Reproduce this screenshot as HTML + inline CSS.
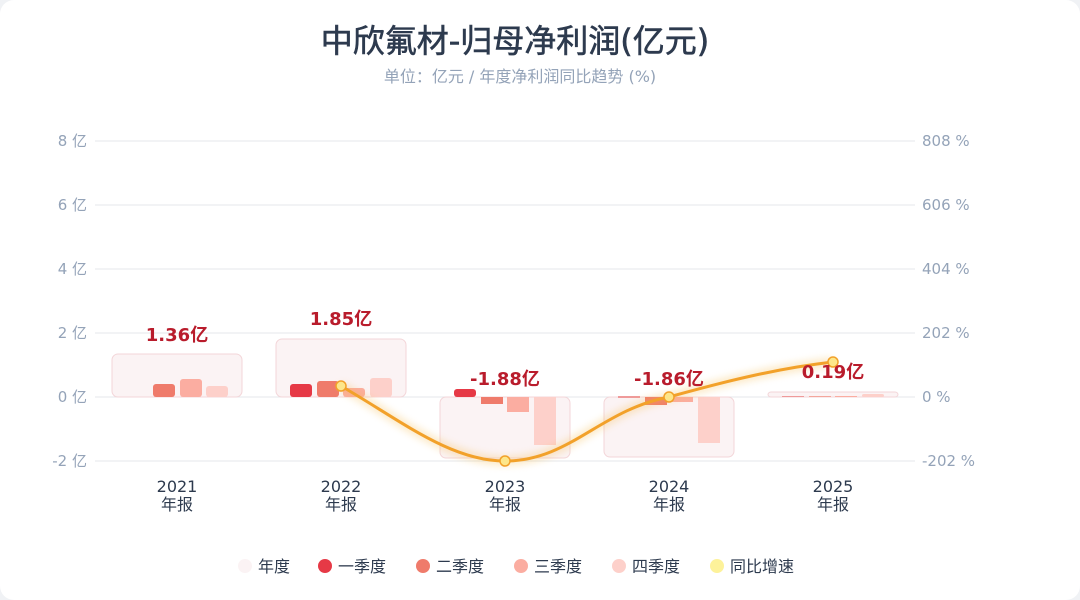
<!DOCTYPE html>
<html><head><meta charset="utf-8"><style>
body{margin:0;background:#f0f2f5;}
.c{width:1080px;height:600px;background:#fff;border-radius:14px;position:relative;overflow:hidden;}
</style></head><body><div class="c">
<svg width="1080" height="600" xmlns="http://www.w3.org/2000/svg" font-family="DejaVu Sans, Noto Sans CJK SC, sans-serif">
<defs><filter id="gl" x="-20%" y="-50%" width="140%" height="200%"><feGaussianBlur stdDeviation="4"/></filter></defs>
<text x="515" y="52" text-anchor="middle" font-size="32" fill="#2d3a4e" stroke="#2d3a4e" stroke-width="0.6">中欣氟材-归母净利润(亿元)</text>
<text x="520" y="82" text-anchor="middle" font-size="16" fill="#94a3b8">单位：亿元 / 年度净利润同比趋势 (%)</text>
<g stroke="#e5e7eb" stroke-width="1">
<line x1="95" x2="915" y1="141" y2="141"/><line x1="95" x2="915" y1="205" y2="205"/><line x1="95" x2="915" y1="269" y2="269"/><line x1="95" x2="915" y1="333" y2="333"/><line x1="95" x2="915" y1="397" y2="397"/><line x1="95" x2="915" y1="461" y2="461"/>
</g>
<g font-size="15" fill="#94a3b8" text-anchor="end">
<text x="87" y="146">8 亿</text><text x="87" y="210">6 亿</text><text x="87" y="274">4 亿</text><text x="87" y="338">2 亿</text><text x="87" y="402">0 亿</text><text x="87" y="466">-2 亿</text>
</g>
<g font-size="15" fill="#94a3b8">
<text x="922" y="146">808 %</text><text x="922" y="210">606 %</text><text x="922" y="274">404 %</text><text x="922" y="338">202 %</text><text x="922" y="402">0 %</text><text x="922" y="466">-202 %</text>
</g>
<g fill="#fbf3f4" stroke="#f3d6d9" stroke-width="1">
<rect x="112" y="354" width="130" height="43" rx="6"/>
<rect x="276" y="339" width="130" height="58" rx="6"/>
<rect x="440" y="397" width="130" height="61" rx="6"/>
<rect x="604" y="397" width="130" height="60" rx="6"/>
<rect x="768" y="392" width="130" height="5" rx="3"/>
</g>
<rect x="153" y="384" width="22" height="13" rx="3" fill="#ef7b6b"/>
<rect x="180" y="379" width="22" height="18" rx="3" fill="#fbada1"/>
<rect x="206" y="386" width="22" height="11" rx="3" fill="#fdd0ca"/>
<rect x="290" y="384" width="22" height="13" rx="3" fill="#e63946"/>
<rect x="317" y="381" width="22" height="16" rx="3" fill="#ef7b6b"/>
<rect x="343" y="388" width="22" height="9" rx="3" fill="#fbada1"/>
<rect x="370" y="378" width="22" height="19" rx="3" fill="#fdd0ca"/>
<rect x="454" y="389" width="22" height="8" rx="3" fill="#e63946"/>
<rect x="481" y="397" width="22" height="7" fill="#ef7b6b"/>
<rect x="507" y="397" width="22" height="15" fill="#fbada1"/>
<rect x="534" y="397" width="22" height="48" fill="#fdd0ca"/>
<rect x="618" y="396" width="22" height="2" fill="#ef9a9a"/>
<rect x="645" y="397" width="22" height="8" fill="#ef7b6b"/>
<rect x="671" y="397" width="22" height="5" fill="#fbada1"/>
<rect x="698" y="397" width="22" height="46" fill="#fdd0ca"/>
<rect x="782" y="396" width="22" height="1" fill="#ef9a9a"/>
<rect x="809" y="396" width="22" height="1" fill="#f4a69c"/>
<rect x="835" y="396" width="22" height="1" fill="#fbada1"/>
<rect x="862" y="394" width="22" height="3" rx="2" fill="#fdd0ca"/>
<path d="M341,386 C400,420 450,461 505,461 C570,461 600,410 669,397 C730,380 780,368 833,362" fill="none" stroke="#f5b94a" stroke-width="8" opacity="0.35" filter="url(#gl)"/>
<path d="M341,386 C400,420 450,461 505,461 C570,461 600,410 669,397 C730,380 780,368 833,362" fill="none" stroke="#f2a12a" stroke-width="3"/>
<g fill="#fde68a" stroke="#f2a12a" stroke-width="1.5">
<circle cx="341" cy="386" r="5"/><circle cx="505" cy="461" r="5"/><circle cx="669" cy="397" r="5"/><circle cx="833" cy="362" r="5"/>
</g>
<g font-size="18" font-weight="bold" fill="#b91c2c" text-anchor="middle">
<text x="177" y="341">1.36亿</text><text x="341" y="325">1.85亿</text><text x="505" y="385">-1.88亿</text><text x="669" y="385">-1.86亿</text><text x="833" y="378">0.19亿</text>
</g>
<g font-size="16" fill="#2d3a4e" text-anchor="middle">
<text x="177" y="492">2021</text><text x="177" y="510">年报</text>
<text x="341" y="492">2022</text><text x="341" y="510">年报</text>
<text x="505" y="492">2023</text><text x="505" y="510">年报</text>
<text x="669" y="492">2024</text><text x="669" y="510">年报</text>
<text x="833" y="492">2025</text><text x="833" y="510">年报</text>
</g>
<g font-size="16" fill="#2d3a4e">
<circle cx="245" cy="566" r="7" fill="#fbf3f4"/><text x="258" y="572">年度</text>
<circle cx="325" cy="566" r="7" fill="#e63946"/><text x="338" y="572">一季度</text>
<circle cx="423" cy="566" r="7" fill="#ef7b6b"/><text x="436" y="572">二季度</text>
<circle cx="521" cy="566" r="7" fill="#fbada1"/><text x="534" y="572">三季度</text>
<circle cx="619" cy="566" r="7" fill="#fdd0ca"/><text x="632" y="572">四季度</text>
<circle cx="717" cy="566" r="7" fill="#fdf29a"/><text x="730" y="572">同比增速</text>
</g>
</svg></div></body></html>
